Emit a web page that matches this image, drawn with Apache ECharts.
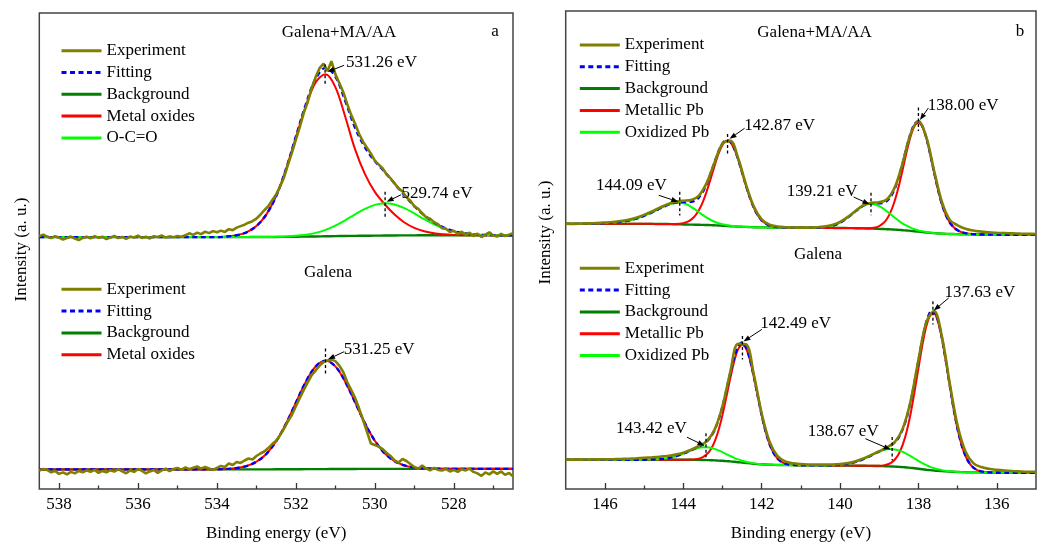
<!DOCTYPE html>
<html>
<head>
<meta charset="utf-8">
<title>XPS O 1s and Pb 4f spectra of galena</title>
<script src="https://cdn.jsdelivr.net/npm/echarts@6.0.0/dist/echarts.min.js"></script>
<style>
  html, body { margin: 0; padding: 0; background: #fff; }
  #chart { width: 1040px; height: 547px; }
</style>
</head>
<body>
<div id="chart"></div>
<script>
// ---------- axes ----------
const o1sTicks = [528, 530, 532, 534, 536, 538];
const o1sMinorTicks = [527, 529, 531, 533, 535, 537];
const pbTicks = [136, 138, 140, 142, 144, 146];
const pbMinorTicks = [137, 139, 141, 143, 145];

// ---------- O 1s, Galena+MA/AA (0.25 eV step from 538.5 eV) ----------
const bgO1sMA = [0,0,0,0,0,0,0,0,0,0,0,0,0,0,0,0,0,0,0,0,0,0,
  0.05,0.1,0.15,0.25,0.35,0.5,0.65,0.8,0.95,1.1,1.25,1.35,1.45,1.55,1.65,1.7,1.75,
  1.8,1.8,1.8,1.8,1.8,1.8,1.8,1.8,1.8,1.8];
const metalOxideMAStart = 533.75;
const metalOxideMA = [0.6,1.8,4.8,11,22.5,41,68,100,131,155,163,150,120,87,62,44,31.5,21,13,7.5,4,2,1,0.4];
const ocoMAStart = 532.5;
const ocoMA = [0.15,0.4,0.9,1.9,3.6,6.5,10.6,15.8,21.6,27.0,31.0,32.5,31.2,27.4,22.0,16.2,10.9,6.7,3.8,2.0,0.9,0.4,0.15];
// measured counts, 0.1 eV step from 538.5 eV
const expO1sMA = [1.0,2.5,0.5,-1.0,0.8,-0.5,
  -2.5,-1.0,0.5,-1.5,-3.0,-0.8,0.3,-1.2,1.0,-0.6,
  0.4,-2.0,-0.5,1.2,-1.0,0.2,-1.8,0.6,-0.4,1.5,
  -0.8,0.3,-1.4,0.9,0.1,1.6,-0.5,0.7,-0.2,1.0,
  0.4,1.8,3.8,2.2,4.5,3.0,5.5,4.0,6.0,4.8,
  6.5,5.2,8.0,7.0,9.5,11.0,12.5,14.5,16.0,18.5,
  22.5,27.0,31.0,37.0,43.0,51.0,60.0,73.0,85.0,98.0,
  111.0,125.0,136.0,150.0,161.0,170.0,174.5,167.0,177.0,164.0,
  155.0,146.0,134.0,123.0,114.0,104.0,96.0,90.0,84.0,77.0,
  73.0,69.0,63.0,59.0,54.0,49.0,46.0,40.0,36.5,31.0,
  28.5,24.0,20.0,18.5,15.0,13.0,9.0,8.5,5.0,6.5,
  3.0,5.5,2.0,4.5,1.0,3.5,0.0,2.5,4.8,1.5,
  0.5,3.2,1.0,2.5,4.0];

// ---------- O 1s, Galena ----------
const bgO1sG = [0,0,0,0,0,0,0,0,0,0,0,0,0,0,0,0,0,0,0,0,0,0,
  0.02,0.05,0.1,0.15,0.2,0.25,0.3,0.35,0.4,0.45,0.5,0.55,0.6,
  0.6,0.6,0.6,0.6,0.6,0.6,0.6,0.6,0.6,0.6,0.6,0.6,0.6,0.6];
const metalOxideGStart = 534.0;
const metalOxideG = [0.15,0.5,1.4,3.4,7.7,15.5,28.2,45.9,67.0,87.8,103.3,109,103.3,87.8,67.0,45.9,28.2,15.5,7.7,3.4,1.4,0.5,0.15];
const expO1sG = [-1.0,0.5,-0.5,-3.0,-1.5,-4.5,
  -3.0,-5.0,-2.5,-4.0,-1.5,-3.0,-1.0,-2.5,-0.5,-3.5,
  -1.5,-3.0,-0.8,-2.2,0.3,-2.0,-3.8,-1.0,-2.5,0.5,
  -1.5,-4.0,-2.0,-0.5,-3.5,-1.0,0.8,-1.8,0.5,1.5,
  -0.5,2.0,0.2,1.8,3.0,0.8,2.5,1.0,-0.5,1.5,
  3.5,2.5,6.0,4.5,7.5,6.5,9.0,11.0,10.0,13.5,
  16.0,18.0,21.5,25.5,29.0,34.5,41.0,48.5,55.0,63.5,
  72.0,80.0,87.5,95.0,99.5,104.5,108.0,109.5,110.5,109.0,
  104.5,98.0,88.0,80.0,72.0,61.5,50.0,38.0,26.0,24.5,
  23.0,20.5,16.5,13.5,9.0,7.0,10.5,8.5,5.5,2.5,
  0.5,4.0,1.0,-1.0,1.5,-0.5,-1.0,0.5,-2.0,-0.5,
  -2.5,0.2,-1.0,0.8,-2.5,-4.0,-6.5,-3.0,-5.0,-2.0,
  -4.5,-2.0,-5.5,-3.5,-7.0];

// ---------- Pb 4f, Galena+MA/AA (0.1 eV step from 147.0 eV) ----------
const bgPbMA = [11,11,11,11,11,11,11,11,11,11,11,11,11,11,11,11,11,11,11,11,11,11,11,
  10.9,10.9,10.8,10.8,10.7,10.6,10.5,10.4,10.3,10.2,
  10.1,10.0,9.9,9.8,9.7,9.5,9.3,9.1,8.9,8.6,
  8.4,8.2,8.0,7.9,7.7,7.6,7.5,7.4,7.4,7.3,
  7.3,7.3,7.2,7.2,7.2,7.1,7.1,7.1,7.0,7.0,
  7.0,7.0,6.9,6.9,6.9,6.9,6.8,6.8,6.8,6.7,
  6.7,6.6,6.5,6.4,6.3,6.2,6.1,5.9,5.8,5.6,
  5.4,5.2,4.9,4.6,4.3,3.9,3.5,3.1,2.7,2.3,
  1.9,1.6,1.3,1.1,0.9,0.8,0.7,0.6,0.5,0.4,
  0.4,0.3,0.3,0.2,0.2,0.2,0.1,0.1,
  0,0,0,0,0,0,0,0,0,0];
const metallicMA1Start = 144.3;
const metallicMA1 = [0.1,0.3,0.6,1.3,2.6,5.0,8.9,14.9,23.3,34.2,46.8,60.1,72.3,81.4,85.7,84.6,78.2,67.7,54.8,41.6,29.6,19.7,12.2,7.1,3.9,2.0,1.0,0.4,0.2,0.1];
const metallicMA2Start = 139.4;
const metallicMA2 = [0.1,0.2,0.6,1.3,2.9,5.7,10.6,18.4,29.5,44.1,61.3,79.2,95.1,106.0,110,106.0,95.1,79.2,61.3,44.1,29.5,18.9,11.5,6.8,3.9,2.2,1.2,0.6,0.3,0.1];
const oxidizedMA1Start = 146.6;
const oxidizedMA1 = [0.1,0.2,0.3,0.4,0.5,0.6,0.8,1.0,1.3,1.6,2.0,2.5,3.2,4.1,5.2,6.5,8.0,9.7,11.5,13.4,15.5,17.4,19.2,20.5,21.4,21.7,21.3,20.0,17.9,15.4,12.6,9.9,7.4,5.3,3.6,2.4,1.5,0.9,0.5,0.3,0.1];
const oxidizedMA2Start = 140.7;
const oxidizedMA2 = [0.1,0.2,0.4,0.8,1.3,2.2,3.5,5.4,7.7,10.6,13.8,17.2,20.3,22.9,24.5,25.0,24.4,22.9,20.6,17.9,14.9,11.9,9.1,6.7,4.8,3.3,2.1,1.3,0.8,0.5,0.3,0.1];
// measured counts, 0.2 eV step from 147.0 eV
const expPbMA = [11.2,11.0,11.2,11.5,11.8,12.3,
  12.9,13.8,15.2,17.2,20.0,23.4,27.3,30.8,33.2,34.3,
  35.0,39.5,52.5,73.0,91.5,94.5,77.0,50.5,28.5,15.5,
  10.2,8.3,7.6,7.3,7.2,7.2,7.5,8.2,9.8,13.0,
  18.0,24.2,29.8,32.3,32.8,35.8,48.0,72.5,101.5,114.8,
  98.5,64.5,33.0,15.0,9.5,6.0,4.2,3.2,2.4,2.0,
  1.7,1.4,1.1,0.9,0.8];

// ---------- Pb 4f, Galena ----------
const bgPbG = [13.2,13.2,13.2,13.2,13.2,13.2,13.2,13.2,13.2,13.2,13.2,13.2,13.2,13.2,13.2,
  13.2,13.2,13.2,13.2,13.2,13.2,13.2,13.2,13.2,13.2,13.2,13.2,13.2,13.2,13.2,
  13.2,13.1,13.1,13.0,13.0,12.9,12.8,12.7,12.5,12.3,
  12.1,11.8,11.5,11.1,10.7,10.3,9.9,9.5,9.1,8.8,
  8.5,8.3,8.1,8.0,7.9,7.8,7.8,7.7,7.7,7.6,
  7.6,7.6,7.5,7.5,7.5,7.5,7.4,7.4,7.4,7.4,
  7.3,7.3,7.3,7.2,7.2,7.1,7.1,7.0,7.0,6.9,
  6.8,6.7,6.6,6.4,6.2,6.0,5.7,5.4,5.0,4.6,
  4.1,3.6,3.1,2.7,2.3,2.0,1.7,1.4,1.2,1.0,
  0.8,0.7,0.6,0.5,0.4,0.4,0.3,0.2,0.2,0.1,
  0.1,
  0,0,0,0,0,0,0,0,0,0];
const metallicG1Start = 143.9;
const metallicG1 = [0.1,0.2,0.6,1.3,2.9,5.8,10.8,18.9,30.6,46.0,64.4,83.8,101.3,113.9,119.0,115.5,104.3,87.5,68.3,49.5,33.4,20.9,12.2,6.6,3.3,1.5,0.7,0.3,0.1];
const metallicG2Start = 139.1;
const metallicG2 = [0.1,0.3,0.8,1.8,3.7,7.2,13.2,22.6,36.2,54.5,76.7,101.1,124.7,144.1,156.0,158.0,149.9,133.2,110.8,86.3,63.0,43.0,27.5,16.5,9.2,4.9,2.4,1.1,0.5,0.2,0.1];
const oxidizedG1Start = 144.9;
const oxidizedG1 = [0.1,0.2,0.3,0.6,0.9,1.5,2.3,3.3,4.6,6.1,7.7,9.4,10.9,12.1,12.8,13.0,12.6,11.6,10.3,8.7,7.0,5.4,4.0,2.8,1.9,1.2,0.8,0.4,0.2,0.1];
const oxidizedG2Start = 140.3;
const oxidizedG2 = [0.1,0.3,0.5,0.8,1.2,1.8,2.6,3.8,5.1,6.8,8.6,10.6,12.6,14.4,15.9,17.0,17.5,17.3,16.6,15.4,13.7,11.8,9.8,7.9,6.1,4.6,3.3,2.3,1.5,1.0,0.6,0.4,0.2,0.1];
const expPbG = [13.3,13.3,13.3,13.4,13.5,13.6,
  13.7,13.9,14.2,14.6,15.1,15.6,16.2,17.0,18.3,20.3,
  23.2,27.0,32.0,43.5,67.0,101.5,130.0,129.5,99.0,60.0,
  31.5,17.0,11.5,9.6,8.8,8.4,8.2,8.2,8.4,8.9,
  9.9,11.7,14.5,18.0,21.8,25.8,31.2,44.5,72.0,113.5,
  151.5,163.0,137.0,90.0,47.5,21.5,9.8,5.8,4.0,3.0,
  2.3,1.8,1.4,1.1,1.0];

// peak positions named in the annotations (eV)
const peaksO1s = [531.26, 529.74, 531.25];
const peaksPb = [142.87, 138.00, 144.09, 139.21, 142.49, 137.63, 143.42, 138.67];

// ---------- helpers ----------
const FONT = '"Liberation Serif", "Times New Roman", serif';
const COLORS = { exp: '#808000', fit: '#0000ff', bg: '#007f00', metal: '#ff0000', oxid: '#00ff00' };

function steps(from, to, step) {
  const n = Math.round((from - to) / step);
  return Array.from({ length: n + 1 }, (_, i) => +(from - i * step).toFixed(2));
}
function onGrid(values, start, grid, step) {
  const out = new Array(grid.length).fill(0);
  const i0 = Math.round((grid[0] - start) / step);
  values.forEach((v, k) => { const i = i0 + k; if (i >= 0 && i < out.length) out[i] = v; });
  return out;
}
function nearest(grid, e) {
  let best = 0;
  grid.forEach((g, i) => { if (Math.abs(g - e) < Math.abs(grid[best] - e)) best = i; });
  return best;
}

const eO1s = steps(538.5, 526.5, 0.25);
const eO1sExp = steps(538.5, 526.5, 0.1);
const ePb = steps(147, 135, 0.1);
const ePbExp = steps(147, 135, 0.2);

// vertical stacking of the two spectra in each panel
const shiftO1sMA = 253.5, shiftO1sG = 19.7;
const shiftPbMA = 256, shiftPbG = 16.3;

function lineSeries(name, axis, pts, color, width, opts) {
  return Object.assign({
    type: 'line', name, xAxisIndex: axis.x, yAxisIndex: axis.y, data: pts,
    showSymbol: false, symbol: 'none', silent: true, clip: true,
    lineStyle: { color, width }, itemStyle: { color }
  }, opts || {});
}

// one stacked spectrum: background, components on background, envelope, measurement
function spectrum(axis, shift, grid, bg, comps, expGrid, exp, smooth, expSmooth) {
  const out = [];
  out.push(lineSeries('Background', axis, grid.map((e, i) => [e, shift + bg[i]]), COLORS.bg, 2.4, { z: 2, smooth }));
  comps.forEach(c => {
    out.push(lineSeries(c.name, axis, grid.map((e, i) => [e, shift + bg[i] + c.values[i]]), c.color, 2, { z: 3, smooth }));
  });
  out.push(lineSeries('Fitting', axis, grid.map((e, i) => [e, shift + bg[i] + comps.reduce((s, c) => s + c.values[i], 0)]),
    COLORS.fit, 2.4, { z: 4, smooth, lineStyle: { color: COLORS.fit, width: 2.4, type: [5, 3.5] } }));
  out.push(lineSeries('Experiment', axis, expGrid.map((e, i) => [e, shift + exp[i]]), COLORS.exp, 2.6, { z: 5, smooth: expSmooth }));
  return out;
}

// ---------- components on the sampling grids ----------
const oxideMA = onGrid(metalOxideMA, metalOxideMAStart, eO1s, 0.25);
const ocoMAg = onGrid(ocoMA, ocoMAStart, eO1s, 0.25);
const oxideG = onGrid(metalOxideG, metalOxideGStart, eO1s, 0.25);
const metMA1 = onGrid(metallicMA1, metallicMA1Start, ePb, 0.1);
const metMA2 = onGrid(metallicMA2, metallicMA2Start, ePb, 0.1);
const oxMA1 = onGrid(oxidizedMA1, oxidizedMA1Start, ePb, 0.1);
const oxMA2 = onGrid(oxidizedMA2, oxidizedMA2Start, ePb, 0.1);
const metG1 = onGrid(metallicG1, metallicG1Start, ePb, 0.1);
const metG2 = onGrid(metallicG2, metallicG2Start, ePb, 0.1);
const oxG1 = onGrid(oxidizedG1, oxidizedG1Start, ePb, 0.1);
const oxG2 = onGrid(oxidizedG2, oxidizedG2Start, ePb, 0.1);
const sumArr = (a, b) => a.map((v, i) => v + b[i]);

const axO1s = { x: 0, y: 0 }, axPb = { x: 2, y: 1 };

const series = [].concat(
  spectrum(axO1s, shiftO1sMA, eO1s, bgO1sMA,
    [{ name: 'Metal oxides', color: COLORS.metal, values: oxideMA }, { name: 'O-C=O', color: COLORS.oxid, values: ocoMAg }],
    eO1sExp, expO1sMA, 0.35, false),
  spectrum(axO1s, shiftO1sG, eO1s, bgO1sG,
    [{ name: 'Metal oxides', color: COLORS.metal, values: oxideG }],
    eO1sExp, expO1sG, 0.35, false),
  spectrum(axPb, shiftPbMA, ePb, bgPbMA,
    [{ name: 'Metallic Pb', color: COLORS.metal, values: sumArr(metMA1, metMA2) },
     { name: 'Oxidized Pb', color: COLORS.oxid, values: sumArr(oxMA1, oxMA2) }],
    ePbExp, expPbMA, 0.2, 0.35),
  spectrum(axPb, shiftPbG, ePb, bgPbG,
    [{ name: 'Metallic Pb', color: COLORS.metal, values: sumArr(metG1, metG2) },
     { name: 'Oxidized Pb', color: COLORS.oxid, values: sumArr(oxG1, oxG2) }],
    ePbExp, expPbG, 0.2, 0.35)
);

// ---------- peak annotations: dashed marker, arrow and label ----------
function tip(grid, e, shift, bg, comp) {
  const i = nearest(grid, e);
  return [e, shift + bg[i] + comp[i]];
}
const tipsO1s = [
  tip(eO1s, peaksO1s[0], shiftO1sMA, bgO1sMA, oxideMA),
  tip(eO1s, peaksO1s[1], shiftO1sMA, bgO1sMA, ocoMAg),
  tip(eO1s, peaksO1s[2], shiftO1sG, bgO1sG, oxideG)
];
const tipsPb = [
  tip(ePb, peaksPb[0], shiftPbMA, bgPbMA, metMA1),
  tip(ePb, peaksPb[1], shiftPbMA, bgPbMA, metMA2),
  tip(ePb, peaksPb[2], shiftPbMA, bgPbMA, oxMA1),
  tip(ePb, peaksPb[3], shiftPbMA, bgPbMA, oxMA2),
  tip(ePb, peaksPb[4], shiftPbG, bgPbG, metG1),
  tip(ePb, peaksPb[5], shiftPbG, bgPbG, metG2),
  tip(ePb, peaksPb[6], shiftPbG, bgPbG, oxG1),
  tip(ePb, peaksPb[7], shiftPbG, bgPbG, oxG2)
];
// pixel offsets from the peak apex
const layoutO1s = [
  { text: [21, -11.5], align: 'left', from: [19, -9], to: [2.5, -2.5], dash: [-10, 12] },
  { text: [16.5, -10.2], align: 'left', from: [16, -8.5], to: [1.5, -1.5], dash: [-11.5, 13.5] },
  { text: [18.3, -11.3], align: 'left', from: [18.5, -9], to: [2.5, -1.5], dash: [-12.3, 13] }
];
const layoutPb = [
  { text: [16.6, -15.7], align: 'left', from: [17, -12.5], to: [2, -2], dash: [-6.7, 15] },
  { text: [9.2, -17.2], align: 'left', from: [10, -14.5], to: [1.5, -2.5], dash: [-15, 8.5] },
  { text: [-12.9, -17.4], align: 'right', from: [-21, -7.5], to: [-1.5, -1], dash: [-11, 12.6] },
  { text: [-13.4, -11.8], align: 'right', from: [-17.4, -6.8], to: [-1.5, 0.5], dash: [-11, 11.6] },
  { text: [17.7, -20.7], align: 'left', from: [19.4, -15], to: [1, -3], dash: [-8.4, 15] },
  { text: [11.5, -20.7], align: 'left', from: [15.8, -15.7], to: [0.8, -3], dash: [-12.4, 11] },
  { text: [-19.2, -18.5], align: 'right', from: [-19, -10], to: [-1.5, -1.5], dash: [-14, 10] },
  { text: [-13.5, -17.1], align: 'right', from: [-26.8, -10.4], to: [-1.5, 0.5], dash: [-12, 11.2] }
];

function annotations(axis, tips, layout) {
  return {
    type: 'custom', xAxisIndex: axis.x, yAxisIndex: axis.y, z: 10, silent: true, clip: false,
    encode: { x: 0, y: 1 }, data: tips,
    renderItem: function (params, api) {
      const L = layout[params.dataIndex];
      const e = api.value(0);
      const p = api.coord([e, api.value(1)]);
      const x = p[0], y = p[1];
      const sx = x + L.from[0], sy = y + L.from[1];
      const ex = x + L.to[0], ey = y + L.to[1];
      const ang = Math.atan2(ey - sy, ex - sx);
      const hl = 7, hw = 2.6;
      const bx = ex - hl * Math.cos(ang), by = ey - hl * Math.sin(ang);
      const nx = -Math.sin(ang) * hw, ny = Math.cos(ang) * hw;
      return {
        type: 'group', children: [
          { type: 'line', shape: { x1: x, y1: y + L.dash[0], x2: x, y2: y + L.dash[1] },
            style: { stroke: '#000', lineWidth: 1.3, lineDash: [3, 2.5] } },
          { type: 'line', shape: { x1: sx, y1: sy, x2: bx, y2: by }, style: { stroke: '#000', lineWidth: 1 } },
          { type: 'polygon', shape: { points: [[ex, ey], [bx + nx, by + ny], [bx - nx, by - ny]] }, style: { fill: '#000' } },
          { type: 'text', x: x + L.text[0], y: y + L.text[1],
            style: { text: e.toFixed(2) + ' eV', fill: '#000', font: '17px ' + FONT,
              textAlign: L.align, textVerticalAlign: 'middle', align: L.align, verticalAlign: 'middle' } }
        ]
      };
    }
  };
}
series.push(annotations(axO1s, tipsO1s, layoutO1s));
series.push(annotations(axPb, tipsPb, layoutPb));

// ---------- axes ----------
function mainX(gridIndex, min, max, ticks) {
  return {
    type: 'value', gridIndex, min, max, inverse: true, position: 'bottom',
    name: 'Binding energy (eV)', nameLocation: 'middle', nameGap: 36,
    nameTextStyle: { fontSize: 17, fontFamily: FONT, color: '#000' },
    axisLine: { show: false }, splitLine: { show: false },
    axisTick: { show: true, inside: true, length: 6, customValues: ticks, lineStyle: { color: '#333', width: 1.3 } },
    axisLabel: { show: true, customValues: ticks, margin: 7, fontSize: 17, fontFamily: FONT, color: '#000' }
  };
}
function minorX(gridIndex, min, max, ticks) {
  return {
    type: 'value', gridIndex, min, max, inverse: true, position: 'bottom', offset: 0,
    axisLine: { show: false }, splitLine: { show: false },
    axisTick: { show: true, inside: true, length: 3.5, customValues: ticks, lineStyle: { color: '#333', width: 1.3 } },
    axisLabel: { show: false }
  };
}

function legendAt(left, top, names) {
  return {
    left, top, orient: 'vertical', itemWidth: 40, itemHeight: 17, itemGap: 4.8,
    selectedMode: false, data: names, padding: 0,
    textStyle: { fontSize: 17, fontFamily: FONT, color: '#000', lineHeight: 17 },
    itemStyle: { opacity: 0 }, lineStyle: { width: 3 }
  };
}

function label(text, x, y, align) {
  return { type: 'text', x, y, silent: true,
    style: { text, fill: '#000', font: '17px ' + FONT, textAlign: align || 'center', textVerticalAlign: 'middle',
      align: align || 'center', verticalAlign: 'middle' } };
}
function yTitle(x, y) {
  return { type: 'text', x, y, rotation: Math.PI / 2, silent: true,
    style: { text: 'Intensity (a. u.)', fill: '#000', font: '17px ' + FONT, textAlign: 'center', textVerticalAlign: 'middle',
      align: 'center', verticalAlign: 'middle' } };
}

const option = {
  animation: false,
  backgroundColor: '#fff',
  textStyle: { fontFamily: FONT },
  grid: [
    { left: 39.3, top: 13, width: 473.7, height: 479, show: true, borderColor: '#444', borderWidth: 1.5, backgroundColor: 'transparent' },
    { left: 565.7, top: 11, width: 470.3, height: 481.3, show: true, borderColor: '#444', borderWidth: 1.5, backgroundColor: 'transparent' }
  ],
  xAxis: [
    mainX(0, 526.5, 538.5, o1sTicks), minorX(0, 526.5, 538.5, o1sMinorTicks),
    mainX(1, 135, 147, pbTicks), minorX(1, 135, 147, pbMinorTicks)
  ],
  yAxis: [
    { type: 'value', gridIndex: 0, min: 0, max: 479, show: false },
    { type: 'value', gridIndex: 1, min: 0, max: 481.3, show: false }
  ],
  legend: [
    legendAt(60, 42.2, ['Experiment', 'Fitting', 'Background', 'Metal oxides', 'O-C=O']),
    legendAt(60, 280.8, ['Experiment', 'Fitting', 'Background', 'Metal oxides']),
    legendAt(578.3, 36.5, ['Experiment', 'Fitting', 'Background', 'Metallic Pb', 'Oxidized Pb']),
    legendAt(578.3, 259.8, ['Experiment', 'Fitting', 'Background', 'Metallic Pb', 'Oxidized Pb'])
  ],
  graphic: [
    label('Galena+MA/AA', 339, 33),
    label('Galena', 328, 273),
    label('a', 495, 32),
    label('Galena+MA/AA', 814.5, 33),
    label('Galena', 818, 255),
    label('b', 1020, 32),
    yTitle(21.7, 249.5),
    yTitle(545.5, 232.5)
  ],
  series
};

const chart = echarts.init(document.getElementById('chart'), null, { renderer: 'canvas' });
chart.setOption(option);
</script>
</body>
</html>
